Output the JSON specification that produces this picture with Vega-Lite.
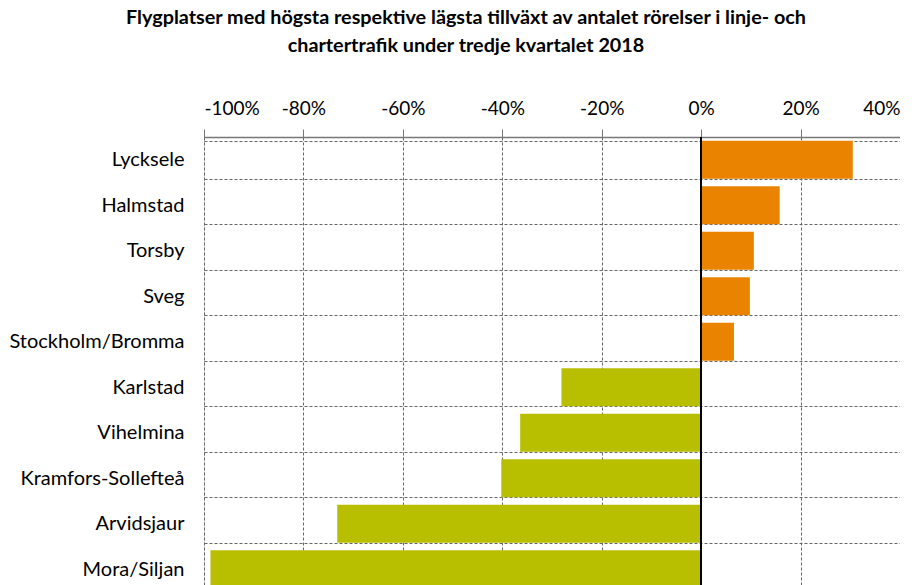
{
  "$schema": "https://vega.github.io/schema/vega-lite/v6.json",
  "autosize": "none",
  "padding": {"left": 204, "top": 137, "right": 0, "bottom": 0},
  "width": 696,
  "height": 455,
  "background": "white",
  "title": {
    "text": ["Flygplatser med högsta respektive lägsta tillväxt av antalet rörelser i linje- och", "chartertrafik under tredje kvartalet 2018"],
    "font": "Lato",
    "fontSize": 19.8,
    "fontWeight": "bold",
    "color": "black",
    "anchor": "middle",
    "frame": "group",
    "dx": -86,
    "offset": 43,
    "lineHeight": 28
  },
  "data": {
    "values": [
      {"airport": "Lycksele", "change": 0.305, "group": "high"},
      {"airport": "Halmstad", "change": 0.158, "group": "high"},
      {"airport": "Torsby", "change": 0.106, "group": "high"},
      {"airport": "Sveg", "change": 0.098, "group": "high"},
      {"airport": "Stockholm/Bromma", "change": 0.066, "group": "high"},
      {"airport": "Karlstad", "change": -0.281, "group": "low"},
      {"airport": "Vihelmina", "change": -0.364, "group": "low"},
      {"airport": "Kramfors-Sollefteå", "change": -0.402, "group": "low"},
      {"airport": "Arvidsjaur", "change": -0.732, "group": "low"},
      {"airport": "Mora/Siljan", "change": -0.987, "group": "low"}
    ]
  },
  "layer": [
    {
      "mark": {"type": "bar"},
      "encoding": {
        "y": {
          "field": "airport",
          "type": "nominal",
          "sort": null,
          "scale": {"paddingInner": 0.16, "paddingOuter": 0.08},
          "axis": {
            "title": null,
            "ticks": false,
            "domain": false,
            "labelFont": "Lato",
            "labelFontSize": 20,
            "labelColor": "black",
            "labelPadding": 20,
            "grid": true,
            "tickBand": "extent",
            "gridColor": "#666666",
            "gridDash": [3, 2],
            "gridWidth": 1
          }
        },
        "x": {
          "field": "change",
          "type": "quantitative",
          "scale": {"domain": [-1, 0.4], "nice": false},
          "axis": {
            "orient": "top",
            "title": null,
            "labelExpr": "(datum.value < 0 ? '-' : '') + format(abs(datum.value), '.0%')",
            "values": [-1, -0.8, -0.6, -0.4, -0.2, 0, 0.2, 0.4],
            "labelFont": "Lato",
            "labelFontSize": 19,
            "labelColor": "black",
            "labelPadding": 11,
            "domainColor": "#777777",
            "domainWidth": 1.5,
            "tickColor": "#777777",
            "tickSize": 8,
            "grid": true,
            "gridColor": "#666666",
            "gridDash": [3, 2],
            "gridWidth": 1
          }
        },
        "color": {
          "field": "group",
          "type": "nominal",
          "scale": {"domain": ["high", "low"], "range": ["#E98300", "#B7BF00"]},
          "legend": null
        }
      }
    },
    {
      "mark": {"type": "rule", "color": "black", "strokeWidth": 1.5},
      "encoding": {"x": {"datum": 0}}
    }
  ]
}
